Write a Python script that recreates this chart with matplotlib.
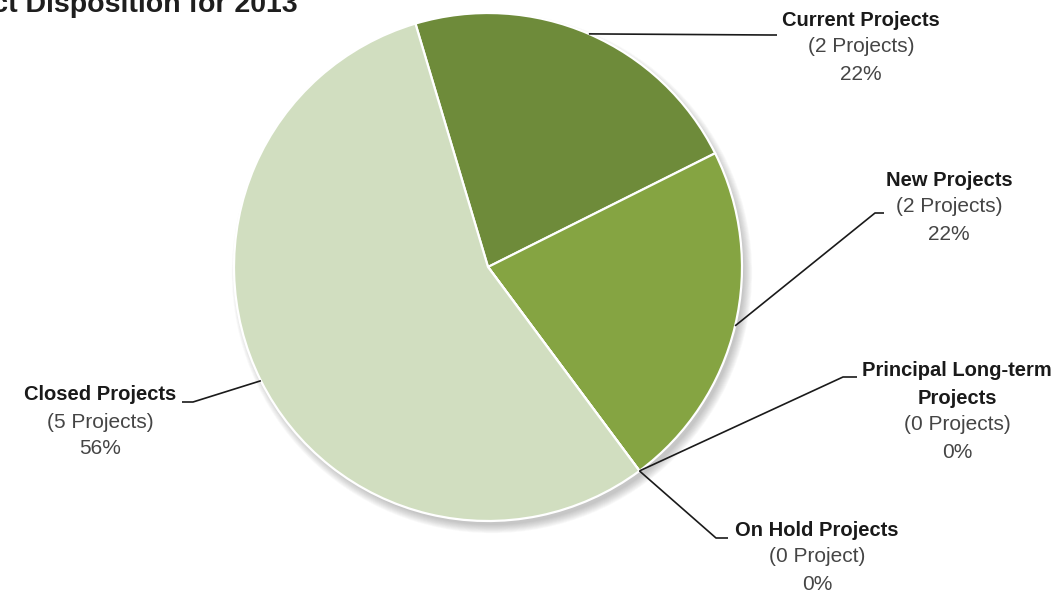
"""
Pie chart of project disposition for 2013.
"""

import numpy as np
import matplotlib
matplotlib.use("Agg")
import matplotlib.pyplot as plt
from matplotlib.patches import Circle

# Project counts per category (drawing order, clockwise from the top)
categories = ["Current Projects", "New Projects", "Principal Long-term\nProjects",
              "On Hold Projects", "Closed Projects"]
counts = [2, 2, 0, 0, 5]
count_labels = ["(2 Projects)", "(2 Projects)", "(0 Projects)", "(0 Project)", "(5 Projects)"]
pct_labels = ["22%", "22%", "0%", "0%", "56%"]
colors = ["#6e8b3a", "#85a442", "#85a442", "#85a442", "#d1dec0"]

W, H = 1058, 596
fig = plt.figure(figsize=(W / 100, H / 100), dpi=100)
ax = fig.add_axes([0, 0, 1, 1])

cx, cy, r = 488, H - 267, 254
start = 106.6

# soft drop shadow under the pie, offset down and to the right
for i in range(10):
    ax.add_patch(Circle((cx + 4, cy - 6), r - 2 + i * 0.9, color="#606060",
                        alpha=0.04, lw=0, zorder=0))

wedges, _ = ax.pie(counts, colors=colors, startangle=start, counterclock=False,
                   center=(cx, cy), radius=r, frame=True,
                   wedgeprops=dict(edgecolor="white", linewidth=1.6, zorder=2))

# label layout: line-centre positions (image y, top down) and leader elbows
label_x = [861, 949, 957, 817, 100]
label_y = [20, 180, 371, 530, 395]
line_step = 27
elbows = [((770, 35), (777, 35)),
          ((875, 213), (884, 213)),
          ((843, 377), (857, 377)),
          ((716, 538), (728, 538)),
          ((193, 402), (182, 402))]

total = sum(counts)
angle = start
for k, w in enumerate(wedges):
    span = 360.0 * counts[k] / total
    mid = np.deg2rad(angle - span / 2)
    angle -= span
    ax_pt = (cx + r * np.cos(mid), cy + r * np.sin(mid))
    (ex, ey), (tx, ty) = elbows[k]
    ax.plot([ax_pt[0], ex, tx], [ax_pt[1], H - ey, H - ty], color="#1a1a1a",
            lw=1.2, zorder=3, solid_capstyle="butt")

    y = label_y[k]
    for line in categories[k].split("\n"):
        ax.text(label_x[k], H - y, line, ha="center", va="center",
                fontsize=14.5, fontweight="bold", family="Liberation Sans",
                color="#1a1a1a")
        y += line_step
    for line in (count_labels[k], pct_labels[k]):
        ax.text(label_x[k], H - y, line, ha="center", va="center",
                fontsize=15, family="Liberation Sans", color="#454545")
        y += line_step

ax.text(298, H - 12.5, "Project Disposition for 2013", ha="right", va="baseline",
        fontsize=20.5, fontweight="bold", family="Liberation Sans", color="#1e1e1e")

ax.set_xlim(0, W)
ax.set_ylim(0, H)
ax.set_aspect("equal")
ax.axis("off")

fig.savefig("out.png", dpi=100, facecolor="white")
